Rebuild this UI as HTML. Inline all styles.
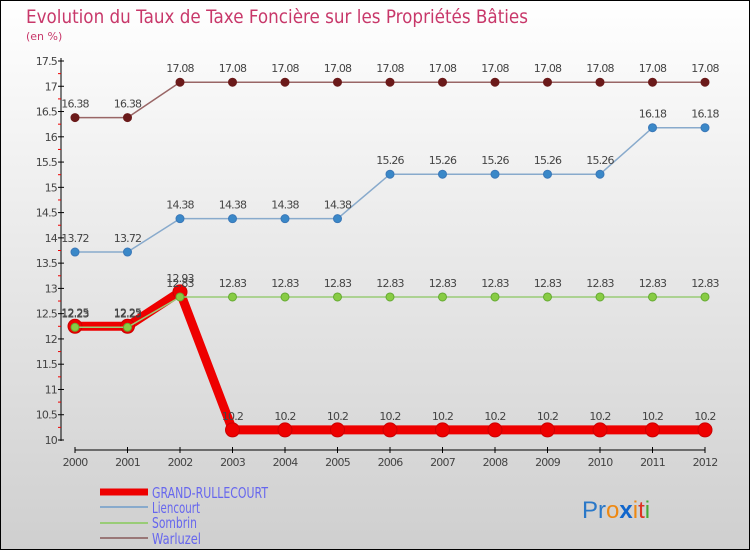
<!DOCTYPE html>
<html><head><meta charset="utf-8"><style>
body{margin:0}
#c{width:750px;height:550px;position:relative;overflow:hidden;font-family:"DejaVu Sans","Liberation Sans",sans-serif}
</style></head><body>
<div id="c">
<svg id="s" width="750" height="550" xmlns="http://www.w3.org/2000/svg">
<defs><linearGradient id="bg" x1="0" y1="0" x2="0" y2="1"><stop offset="0" stop-color="#ffffff"/><stop offset="1" stop-color="#cfcfcf"/></linearGradient></defs>
<rect x="0.5" y="0.5" width="749" height="549" fill="url(#bg)" stroke="#000"/>
<text x="26" y="23" font-size="19" fill="#c8386a" textLength="502" lengthAdjust="spacingAndGlyphs">Evolution du Taux de Taxe Foncière sur les Propriétés Bâties</text>
<text x="26" y="40" font-size="11" fill="#c8386a">(en %)</text>
<g id="axes"></g><g id="series"></g>
<g>
<line x1="100" y1="492" x2="148" y2="492" stroke="#ee0000" stroke-width="7"/>
<text x="152" y="498" font-size="15" fill="#6666ee" textLength="116" lengthAdjust="spacingAndGlyphs">GRAND-RULLECOURT</text>
<line x1="100" y1="507" x2="148" y2="507" stroke="#88aacc" stroke-width="2"/>
<text x="152" y="513" font-size="15" fill="#6666ee" textLength="48" lengthAdjust="spacingAndGlyphs">Liencourt</text>
<line x1="100" y1="523" x2="148" y2="523" stroke="#99cc77" stroke-width="2"/>
<text x="152" y="528" font-size="15" fill="#6666ee" textLength="45" lengthAdjust="spacingAndGlyphs">Sombrin</text>
<line x1="100" y1="538" x2="148" y2="538" stroke="#997777" stroke-width="2"/>
<text x="152" y="544" font-size="15" fill="#6666ee" textLength="49" lengthAdjust="spacingAndGlyphs">Warluzel</text>
</g>
<g font-size="24" font-family="Liberation Sans,sans-serif">
<text x="582" y="518"><tspan fill="#2a78c8">Pr</tspan><tspan fill="#ee8811">o</tspan><tspan fill="#1166cc" font-weight="bold">x</tspan><tspan fill="#ee8811">i</tspan><tspan fill="#dd3322">t</tspan><tspan fill="#44aa33">i</tspan></text>
</g>
</svg>
</div>
<script>
const years=[2000,2001,2002,2003,2004,2005,2006,2007,2008,2009,2010,2011,2012];
const yTicks=[10,10.5,11,11.5,12,12.5,13,13.5,14,14.5,15,15.5,16,16.5,17,17.5];
const grand=[12.25,12.25,12.93,10.2,10.2,10.2,10.2,10.2,10.2,10.2,10.2,10.2,10.2];
const liencourt=[13.72,13.72,14.38,14.38,14.38,14.38,15.26,15.26,15.26,15.26,15.26,16.18,16.18];
const sombrin=[12.23,12.23,12.83,12.83,12.83,12.83,12.83,12.83,12.83,12.83,12.83,12.83,12.83];
const warluzel=[16.38,16.38,17.08,17.08,17.08,17.08,17.08,17.08,17.08,17.08,17.08,17.08,17.08];
const NS="http://www.w3.org/2000/svg";
function X(i){return 75+i*(630/(years.length-1));}
function Y(v){return 440-(v-10)*(379/7.5);}
function mk(p,t,a){const e=document.createElementNS(NS,t);for(const k in a)e.setAttribute(k,a[k]);p.appendChild(e);return e;}
const ax=document.getElementById('axes');
const yl=mk(ax,'line',{x1:61,y1:58,x2:61,y2:441,stroke:'#000'});


yTicks.forEach(v=>{const y=Y(v);
mk(ax,'line',{x1:58,y1:y,x2:64,y2:y,stroke:'#000'});
if(v<17.5){mk(ax,'line',{x1:58,y1:Y(v+0.25),x2:61,y2:Y(v+0.25),stroke:'#e00'});}
const t=mk(ax,'text',{x:57,y:y+4,'font-size':11,fill:'#444','text-anchor':'end','letter-spacing':'-0.8'});t.textContent=String(v);

});
const xl=mk(ax,'line',{x1:75,y1:450,x2:705,y2:450,stroke:'#000'});


years.forEach((yr,i)=>{mk(ax,'line',{x1:X(i),y1:447,x2:X(i),y2:453,stroke:'#000'});
const t=mk(ax,'text',{x:X(i),y:466,'font-size':11,fill:'#444','text-anchor':'middle','letter-spacing':'-0.8'});t.textContent=yr;

});
const sg=document.getElementById('series');
function draw(name,vals,color,w,r,dot,dotStroke,labelDy){
const g=mk(sg,'g',{});


mk(g,'polyline',{points:vals.map((v,i)=>X(i)+','+Y(v)).join(' '),fill:'none',stroke:color,'stroke-width':w,'stroke-linejoin':'round'});
vals.forEach((v,i)=>{const c=mk(g,'circle',{cx:X(i),cy:Y(v),r:r,fill:dot,stroke:dotStroke,'stroke-width':1});


const t=mk(g,'text',{x:X(i),y:Y(v)+labelDy,'font-size':11,fill:'#444','text-anchor':'middle','letter-spacing':'-0.8'});t.textContent=String(v);

});}
draw('warluzel',warluzel,'#996666',1.5,4,'#6b1a1a','#6b1a1a',-10);
draw('liencourt',liencourt,'#88aacc',1.5,4,'#3a88c8','#3a78b8',-10);
draw('grand-rullecourt',grand,'#ee0000',9,7,'#ee0000','#cc0000',-10);
draw('sombrin',sombrin,'#99cc77',1.5,4,'#88cc44','#66aa33',-10);
</script>
</body></html>
